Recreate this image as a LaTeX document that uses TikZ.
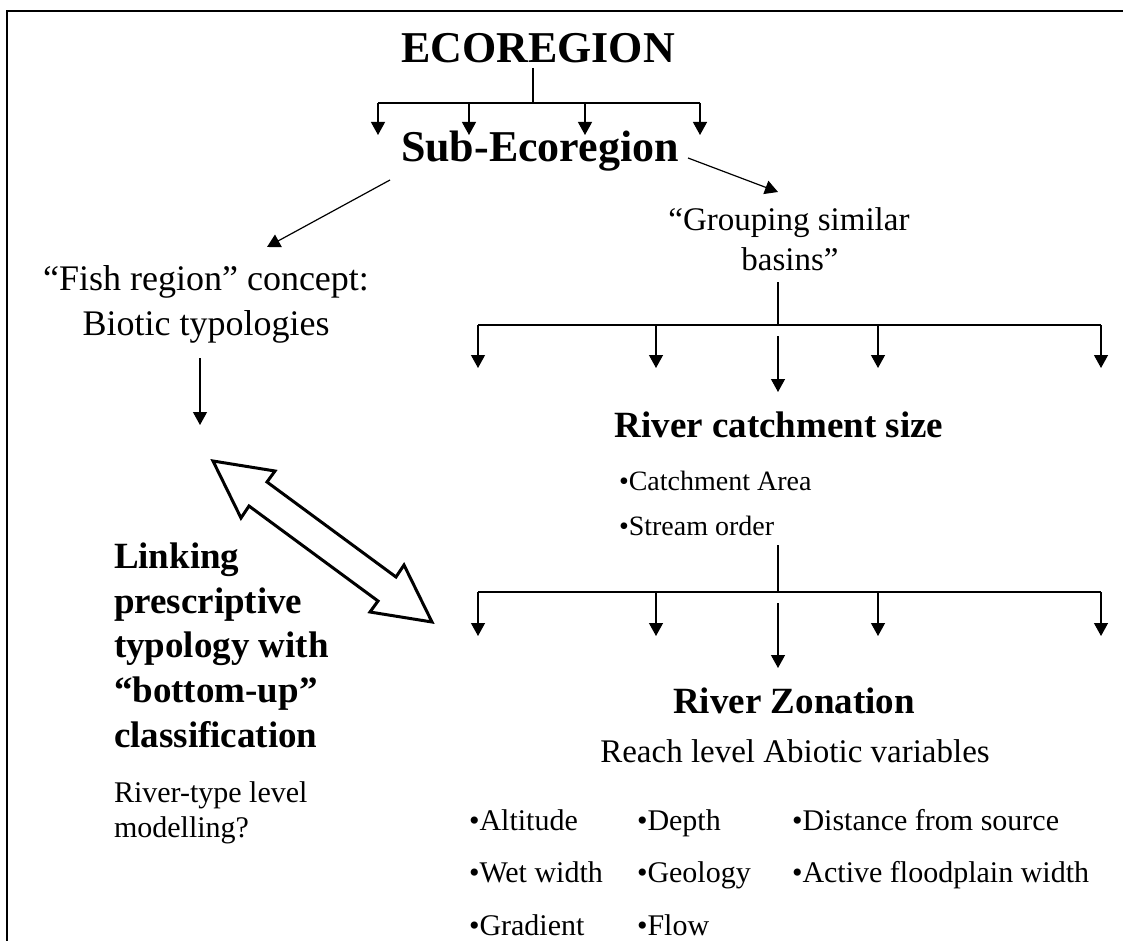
\documentclass[tikz,border=0pt]{standalone}
\usepackage{fontspec}
\setmainfont{Liberation Serif}
\usetikzlibrary{arrows.meta}
\begin{document}
\begin{tikzpicture}[x=1pt,y=-1pt,
  txt/.style={inner sep=0pt, outer sep=0pt},
  bigb/.style={txt, anchor=base, font=\fontsize{44}{50}\selectfont\bfseries},
  headb/.style={txt, font=\fontsize{37}{42}\selectfont\bfseries},
  conn/.style={line width=1.2pt, -{Triangle[length=13pt,width=14pt]}},
  plain/.style={line width=1.2pt},
  hollow/.style={line width=3pt, miter limit=10, line join=miter},
  frame/.style={line width=2.5pt}
]
\useasboundingbox (0,0) rectangle (1123,941);
\draw[frame] (7,941) -- (7,11) -- (1123,11);

% --- titles
\node[bigb] (eco) at (538,63) {ECOREGION};
\node[bigb] (sub) at (540,162) {Sub-Ecoregion};

% --- left branch
\node[txt, anchor=base, font=\fontsize{36}{42}\selectfont] (fish1) at (206,290) {“Fish region” concept:};
\node[txt, anchor=base, font=\fontsize{36}{42}\selectfont] (fish2) at (206,335) {Biotic typologies};

% --- right branch
\node[txt, anchor=base, font=\fontsize{33}{38}\selectfont] (grp1) at (789,230) {“Grouping similar};
\node[txt, anchor=base, font=\fontsize{33}{38}\selectfont] (grp2) at (790,270) {basins”};

\node[headb, anchor=base] (rcs) at (779,437) {River catchment size};
\node[txt, anchor=base west, font=\fontsize{28}{32}\selectfont] (ca) at (619,490) {•Catchment Area};
\node[txt, anchor=base west, font=\fontsize{28}{32}\selectfont] (so) at (619,535) {•Stream order};

\node[headb, anchor=base] (rz) at (794,713) {River Zonation};
\node[txt, anchor=base, font=\fontsize{33}{38}\selectfont] (rl) at (795,762) {Reach level Abiotic variables};

\tikzset{bul/.style={txt, anchor=base west, font=\fontsize{30}{34}\selectfont}}
\node[bul] (alt) at (469,830) {•Altitude};
\node[bul] (wet) at (469,882) {•Wet width};
\node[bul] (gra) at (469,935) {•Gradient};
\node[bul] (dep) at (637,830) {•Depth};
\node[bul] (geo) at (637,882) {•Geology};
\node[bul] (flo) at (637,935) {•Flow};
\node[bul] (dis) at (792,830) {•Distance from source};
\node[bul] (act) at (792,882) {•Active floodplain width};

% --- linking text
\tikzset{lnk/.style={headb, anchor=base west}}
\node[lnk] (l1) at (114,568) {Linking};
\node[lnk] (l2) at (114,613) {prescriptive};
\node[lnk] (l3) at (114,657) {typology with};
\node[lnk] (l4) at (114,702) {“bottom-up”};
\node[lnk] (l5) at (114,747) {classification};
\node[txt, anchor=base west, font=\fontsize{30}{34}\selectfont] (m1) at (114,802) {River-type level};
\node[txt, anchor=base west, font=\fontsize{30}{34}\selectfont] (m2) at (114,837) {modelling?};

% --- connectors: ECOREGION tree
\coordinate (e0) at (533,68);
\coordinate (e1) at (533,103);
\coordinate (ea) at (378,103);
\coordinate (eb) at (469,103);
\coordinate (ec) at (585,103);
\coordinate (ed) at (700,103);
\draw[plain] (e0) -- (e1);
\draw[plain] (ea) -- (ed);
\foreach \c in {ea,eb,ec,ed} \draw[conn] (\c) -- ++(0,32);

% --- Sub-Ecoregion diagonals
\coordinate (s1) at (390,180);
\coordinate (f0) at (267,247);
\coordinate (s2) at (688,158);
\coordinate (g0) at (778,192);
\draw[conn] (s1) -- (f0);
\draw[conn] (s2) -- (g0);

% --- fish down arrow
\coordinate (f1) at (200,358);
\coordinate (f2) at (200,425);
\draw[conn] (f1) -- (f2);

% --- row 1
\coordinate (g1) at (778,282);
\coordinate (g2) at (778,325);
\coordinate (ra) at (478,325);
\coordinate (rb) at (656,325);
\coordinate (rd) at (878,325);
\coordinate (re) at (1101,325);
\draw[plain] (g1) -- (g2);
\draw[plain] (ra) -- (re);
\foreach \c in {ra,rb,rd,re} \draw[conn] (\c) -- ++(0,43);
\coordinate (rc0) at (778,336);
\coordinate (rc1) at (778,392);
\draw[conn] (rc0) -- (rc1);

% --- row 2
\coordinate (h1) at (778,545);
\coordinate (h2) at (778,592);
\coordinate (qa) at (478,592);
\coordinate (qb) at (656,592);
\coordinate (qd) at (878,592);
\coordinate (qe) at (1101,592);
\draw[plain] (h1) -- (h2);
\draw[plain] (qa) -- (qe);
\foreach \c in {qa,qb,qd,qe} \draw[conn] (\c) -- ++(0,44);
\coordinate (qc0) at (778,603);
\coordinate (qc1) at (778,668);
\draw[conn] (qc0) -- (qc1);

% --- hollow double arrow
\coordinate (dA) at (213,461);
\coordinate (dB) at (432,622);
\draw[hollow] (dA) -- (275,471) -- (267,482) -- (396,577) -- (404,565) -- (dB)
  -- (370,612) -- (378,601) -- (249,506) -- (241,518) -- cycle;
\end{tikzpicture}
\end{document}
